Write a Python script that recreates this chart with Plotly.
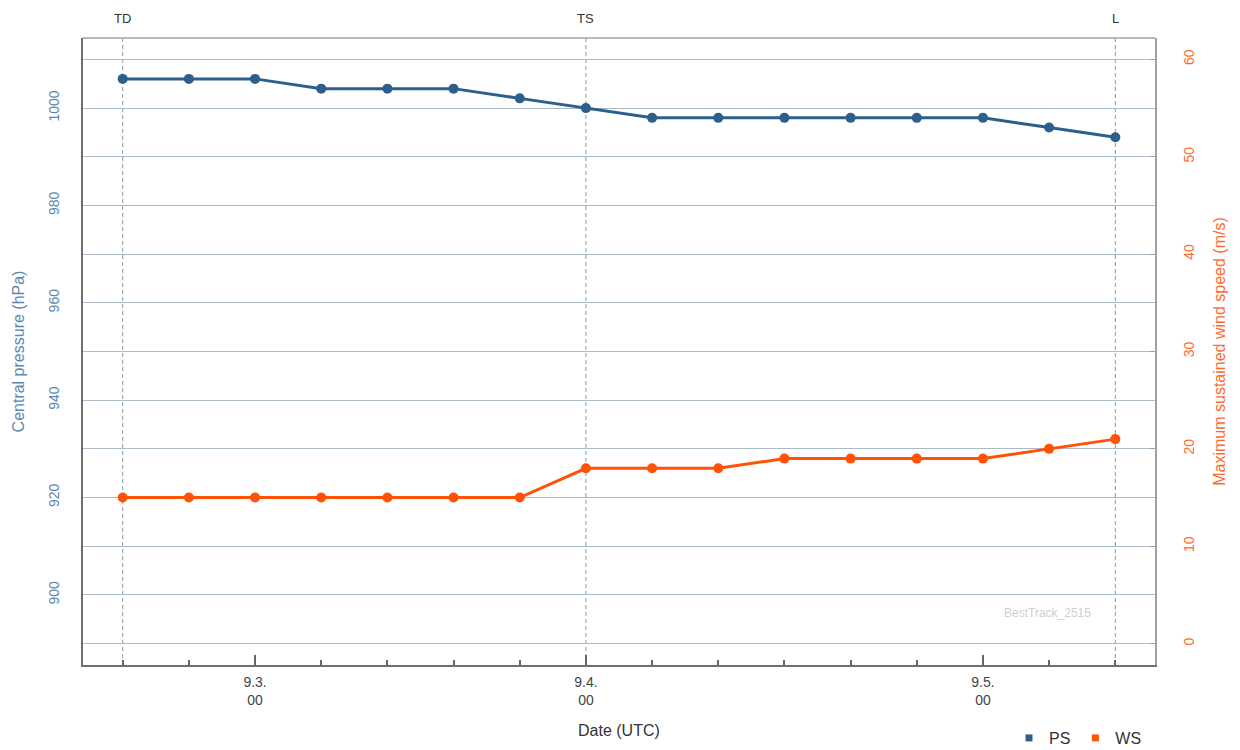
import plotly.graph_objects as go

# ---- data ----
ps = [1006, 1006, 1006, 1004, 1004, 1004, 1002, 1000, 998, 998, 998, 998, 998, 998, 996, 994]
ws = [15, 15, 15, 15, 15, 15, 15, 18, 18, 18, 19, 19, 19, 19, 20, 21]
idx = list(range(len(ps)))
tick_idx = [2, 7, 13]
tick_labels = ["9.3.<br>00", "9.4.<br>00", "9.5.<br>00"]
stage_idx = [0, 7, 15]
stage_names = ["TD", "TS", "L"]
ps_ticks = [900, 920, 940, 960, 980, 1000]
ws_ticks = [0, 10, 20, 30, 40, 50, 60]

PS_C = "#2c5f8c"
WS_C = "#ff5206"
FONT = "Liberation Sans, Arial, sans-serif"
GRID = "#acbac8"

# page body adds an 8px margin; compensate in figure size
W, H = 1232, 742

fig = go.Figure()
fig.add_trace(go.Scatter(x=idx, y=ps, mode="lines+markers", yaxis="y",
                         line=dict(color=PS_C, width=3), marker=dict(size=10, color=PS_C),
                         showlegend=False))
fig.add_trace(go.Scatter(x=idx, y=ws, mode="lines+markers", yaxis="y2",
                         line=dict(color=WS_C, width=3), marker=dict(size=10, color=WS_C),
                         showlegend=False))
# legend-only entries
fig.add_trace(go.Scatter(x=[None], y=[None], mode="markers", name="PS",
                         marker=dict(symbol="square", size=7, color=PS_C)))
fig.add_trace(go.Scatter(x=[None], y=[None], mode="markers", name="WS",
                         marker=dict(symbol="square", size=7, color=WS_C)))

shapes = []
for i in stage_idx:
    shapes.append(dict(type="line", xref="x", yref="paper", x0=i, x1=i, y0=0, y1=1,
                       line=dict(color="#8d99a6", width=1, dash="4px,3px"), layer="below"))
# frame top
shapes.append(dict(type="line", xref="paper", yref="paper", x0=0, x1=1, y0=1, y1=1,
                   line=dict(color="#a0a0a0", width=1.5)))

annotations = []
for i, n in zip(stage_idx, stage_names):
    annotations.append(dict(x=i, y=1, xref="x", yref="paper", text=n, showarrow=False,
                            yanchor="middle", yshift=20,
                            font=dict(size=13, color="#333333", family=FONT)))
annotations.append(dict(x=13.98, y=0.068, xref="x", yref="paper", text="BestTrack_2515", showarrow=False,
                        font=dict(size=12, color="#cfcfcf", family=FONT)))
# x-axis title
annotations.append(dict(x=0.5, y=-0.105, xref="paper", yref="paper", text="Date (UTC)", showarrow=False,
                        yanchor="middle", font=dict(size=16, color="#333333", family=FONT)))

fig.update_layout(
    width=W, height=H,
    margin=dict(l=75, r=85, t=30, b=85, autoexpand=False),
    paper_bgcolor="white", plot_bgcolor="white",
    font=dict(family=FONT),
    xaxis=dict(range=[-0.6, 15.6], tickvals=tick_idx, ticktext=tick_labels,
               ticks="inside", ticklen=10, tickwidth=1.5, tickcolor="#666666",
               minor=dict(ticks="inside", ticklen=5, dtick=1, tick0=0, tickcolor="#666666"),
               showgrid=False, zeroline=False, automargin=False,
               showline=True, linecolor="#707070", linewidth=2,
               ticklabelstandoff=3,
               tickfont=dict(size=14, color="#444444")),
    yaxis=dict(range=[885.6, 1014.4], tickvals=ps_ticks, tickangle=-90,
               showgrid=True, gridcolor=GRID, gridwidth=1, zeroline=False, automargin=False,
               showline=True, linecolor="#707070", linewidth=2, ticks="",
               ticklabelstandoff=16,
               tickfont=dict(size=14, color="#5b87b0"),
               title=dict(text="Central pressure (hPa)", font=dict(size=16, color="#5b87b0"), standoff=18)),
    yaxis2=dict(range=[-2.2, 62.2], tickvals=ws_ticks, tickangle=-90, overlaying="y", side="right",
                showgrid=True, gridcolor=GRID, gridwidth=1, zeroline=False, automargin=False,
                showline=True, linecolor="#a0a0a0", linewidth=1.5,
                ticks="inside", ticklen=5, tickcolor="#a0a0a0",
                ticklabelstandoff=20,
                tickfont=dict(size=14, color="#ff6a30"),
                title=dict(text="Maximum sustained wind speed (m/s)", font=dict(size=16, color="#ff6a30"), standoff=18)),
    legend=dict(orientation="h", x=1139 / W, xanchor="right", xref="container",
                y=12 / H, yanchor="middle", yref="container",
                font=dict(size=16, color="#333333"), bgcolor="rgba(0,0,0,0)"),
    shapes=shapes, annotations=annotations,
)

fig.write_html("out.html")
